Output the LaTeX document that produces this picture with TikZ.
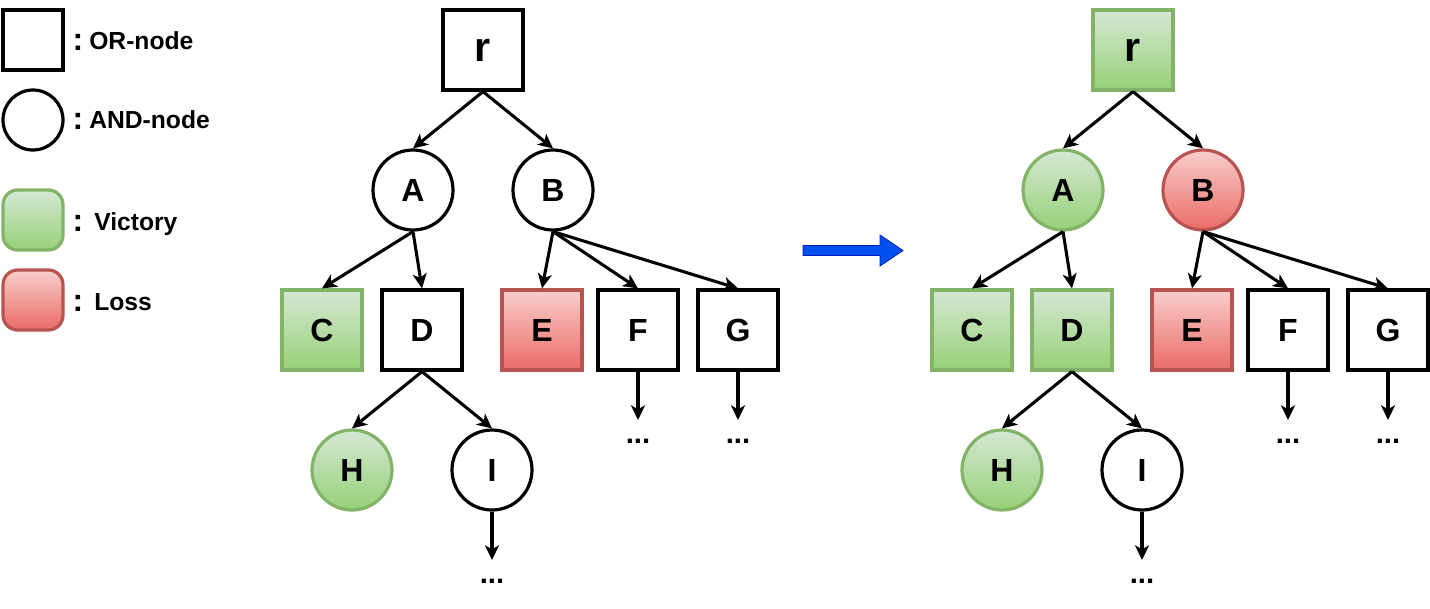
\documentclass[tikz,border=0pt]{standalone}
\usepackage{fontspec}
\setmainfont{Liberation Sans}
\usetikzlibrary{arrows.meta}
\definecolor{gtop}{HTML}{D5E8D4}
\definecolor{gbot}{HTML}{97D077}
\definecolor{gline}{HTML}{82B366}
\definecolor{rtop}{HTML}{F8CECC}
\definecolor{rbot}{HTML}{EA6B66}
\definecolor{rline}{HTML}{B85450}
\definecolor{bfill}{HTML}{0050EF}
\definecolor{bline}{HTML}{001DBC}
\begin{document}
\begin{tikzpicture}[x=0.75pt,y=-0.75pt,
  ornode/.style={draw=black, line width=2.4pt, minimum size=60pt, inner sep=0pt, fill=white, font=\fontsize{24}{28}\selectfont\bfseries},
  andnode/.style={circle, draw=black, line width=2.4pt, minimum size=60pt, inner sep=0pt, fill=white, font=\fontsize{24}{28}\selectfont\bfseries},
  rootlbl/.style={font=\fontsize{31}{34}\selectfont\bfseries},
  win/.style={draw=gline, top color=gtop, bottom color=gbot},
  lose/.style={draw=rline, top color=rtop, bottom color=rbot},
  link/.style={line width=2.3pt, -{Stealth[length=11pt,width=10.5pt,inset=3pt]}},
  dots/.style={anchor=base, inner sep=0pt, font=\fontsize{22}{26}\selectfont\bfseries},
  legtxt/.style={anchor=base west, inner sep=0pt, font=\fontsize{18.5}{22}\selectfont\bfseries},
  legcol/.style={anchor=base, inner sep=0pt, font=\fontsize{24}{28}\selectfont\bfseries},
  legbox/.style={line width=2.4pt, minimum size=45pt, inner sep=0pt}
]
\useasboundingbox (0,0) rectangle (1430,608);

% legend
\node[legbox, draw=black] (lor) at (33,40) {};
\node[legcol] (lorc) at (78,50) {:};
\node[legtxt] (lort) at (89,49) {OR-node};
\node[legbox, circle, draw=black] (land) at (33,120) {};
\node[legcol] (landc) at (78,129) {:};
\node[legtxt] (landt) at (89,128) {AND-node};
\node[legbox, rounded corners=11pt, win] (lwin) at (33,220) {};
\node[legcol] (lwinc) at (78,231) {:};
\node[legtxt] (lwint) at (94,230) {Victory};
\node[legbox, rounded corners=11pt, lose] (llos) at (33,300) {};
\node[legcol] (llosc) at (78,311) {:};
\node[legtxt] (llost) at (94,310) {Loss};

% left tree
\node[ornode, rootlbl] (r) at (483,50) {r};
\node[andnode] (A) at (413,190) {A};
\node[andnode] (B) at (553,190) {B};
\node[ornode, win] (C) at (322,330) {C};
\node[ornode] (D) at (422,330) {D};
\node[ornode, lose] (E) at (542,330) {E};
\node[ornode] (F) at (638,330) {F};
\node[ornode] (G) at (738,330) {G};
\node[andnode, win] (H) at (352,470) {H};
\node[andnode] (I) at (492,470) {I};
\coordinate (Fe) at (638,420);
\coordinate (Ge) at (738,420);
\coordinate (Ie) at (492,560);
\node[dots] (Fd) at (638,443) {...};
\node[dots] (Gd) at (738,443) {...};
\node[dots] (Id) at (492,583) {...};
\draw[link] (r.south) -- (A.north);
\draw[link] (r.south) -- (B.north);
\draw[link] (A.south) -- (C.north);
\draw[link] (A.south) -- (D.north);
\draw[link] (B.south) -- (E.north);
\draw[link] (B.south) -- (F.north);
\draw[link] (B.south) -- (G.north);
\draw[link] (D.south) -- (H.north);
\draw[link] (D.south) -- (I.north);
\draw[link] (F.south) -- (Fe);
\draw[link] (G.south) -- (Ge);
\draw[link] (I.south) -- (Ie);

% blue arrow
\draw[draw=bline, fill=bfill, line width=0.6pt] (803,245.5) -- (880,245.5) -- (880,235) -- (903,250.5) -- (880,266) -- (880,255.5) -- (803,255.5) -- cycle;

% right tree
\node[ornode, win, rootlbl] (r2) at (1133,50) {r};
\node[andnode, win] (A2) at (1063,190) {A};
\node[andnode, lose] (B2) at (1203,190) {B};
\node[ornode, win] (C2) at (972,330) {C};
\node[ornode, win] (D2) at (1072,330) {D};
\node[ornode, lose] (E2) at (1192,330) {E};
\node[ornode] (F2) at (1288,330) {F};
\node[ornode] (G2) at (1388,330) {G};
\node[andnode, win] (H2) at (1002,470) {H};
\node[andnode] (I2) at (1142,470) {I};
\coordinate (F2e) at (1288,420);
\coordinate (G2e) at (1388,420);
\coordinate (I2e) at (1142,560);
\node[dots] (F2d) at (1288,443) {...};
\node[dots] (G2d) at (1388,443) {...};
\node[dots] (I2d) at (1142,583) {...};
\draw[link] (r2.south) -- (A2.north);
\draw[link] (r2.south) -- (B2.north);
\draw[link] (A2.south) -- (C2.north);
\draw[link] (A2.south) -- (D2.north);
\draw[link] (B2.south) -- (E2.north);
\draw[link] (B2.south) -- (F2.north);
\draw[link] (B2.south) -- (G2.north);
\draw[link] (D2.south) -- (H2.north);
\draw[link] (D2.south) -- (I2.north);
\draw[link] (F2.south) -- (F2e);
\draw[link] (G2.south) -- (G2e);
\draw[link] (I2.south) -- (I2e);
\end{tikzpicture}
\end{document}
